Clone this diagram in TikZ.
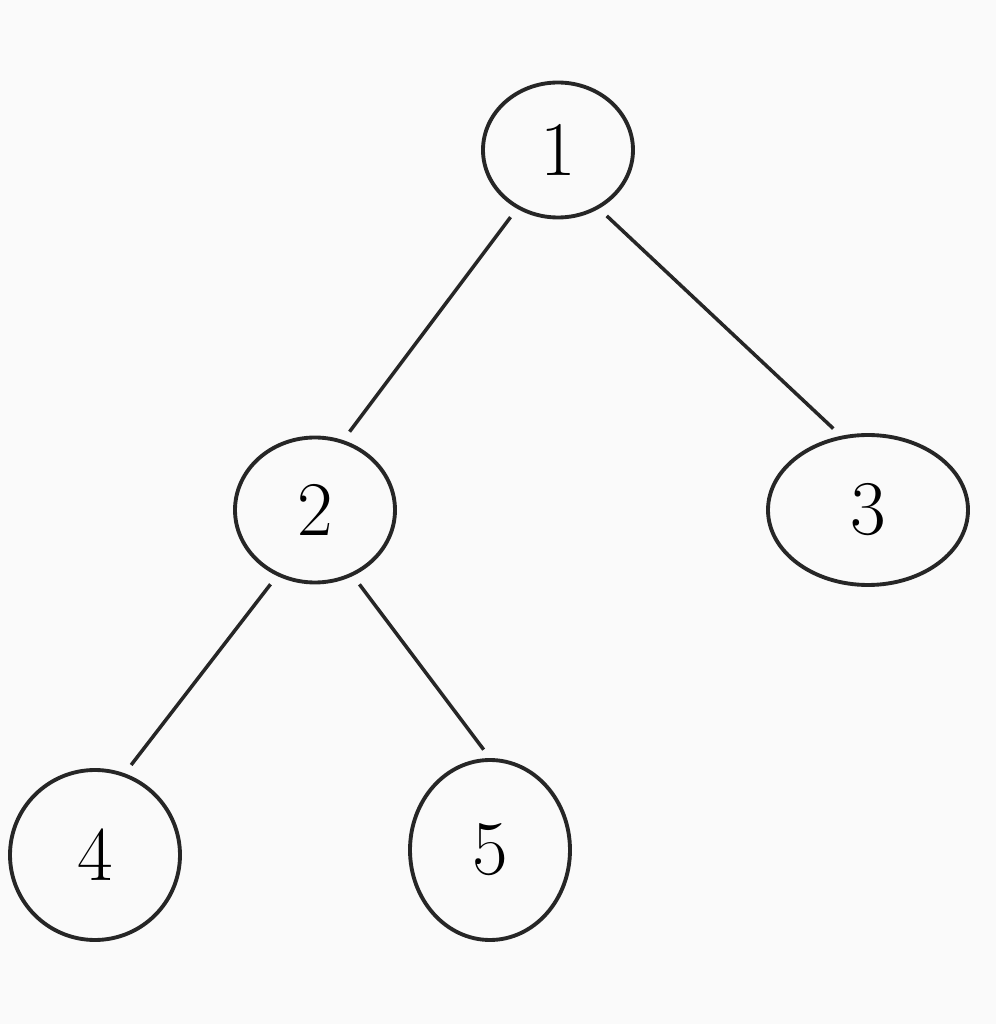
\documentclass[tikz,border=0pt]{standalone}
\usepackage{tikz}
\usetikzlibrary{shapes.geometric}

\begin{document}
\begin{tikzpicture}[
    treenode/.style = {draw=black!85, line width=1.1pt, ellipse, inner sep=0pt,
                       font=\fontsize{22}{26}\selectfont},
    treeedge/.style = {draw=black!85, line width=1pt, shorten <=3pt, shorten >=3pt}]
    \fill[color=black!2] (0,0) rectangle (9.96,10.24);
    \node[treenode, minimum width=1.5cm, minimum height=1.35cm] (one)   at (5.58,8.74) {1};
    \node[treenode, minimum width=1.6cm, minimum height=1.45cm] (two)   at (3.15,5.14) {2};
    \node[treenode, minimum width=2.0cm, minimum height=1.5cm]  (three) at (8.68,5.14) {3};
    \node[treenode, minimum width=1.7cm, minimum height=1.7cm]  (four)  at (0.95,1.69) {4};
    \node[treenode, minimum width=1.6cm, minimum height=1.8cm]  (five)  at (4.90,1.74) {5};
    \foreach \a/\b in {one.235/two.68,one.305/three.110,two.240/four.70,two.300/five.north}
      \draw[treeedge] (\a) -- (\b);
  \end{tikzpicture}
\end{document}
